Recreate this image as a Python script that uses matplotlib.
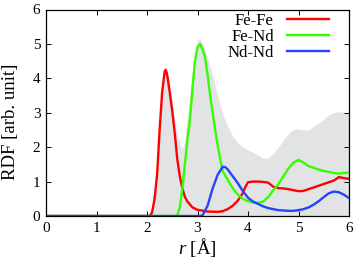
import matplotlib
matplotlib.use("Agg")
import matplotlib.pyplot as plt

# ---- data ----
r_fefe = [0.0, 2.0, 2.05, 2.1, 2.15, 2.2, 2.25, 2.3, 2.35, 2.37, 2.4, 2.45, 2.5, 2.55, 2.6, 2.65, 2.7, 2.75,
          2.8, 2.9, 3.0, 3.2, 3.4, 3.5, 3.6, 3.7, 3.8, 3.9, 3.95, 4.0, 4.1, 4.2, 4.3, 4.4, 4.5, 4.6, 4.7,
          4.8, 4.9, 5.0, 5.1, 5.2, 5.3, 5.4, 5.5, 5.6, 5.7, 5.8, 5.9, 6.0]
g_fefe = [0.0, 0.0, 0.0, 0.1, 0.5, 1.2, 2.5, 3.6, 4.2, 4.25, 4.1, 3.6, 3.05, 2.4, 1.65, 1.15, 0.8, 0.56,
          0.42, 0.25, 0.18, 0.13, 0.12, 0.14, 0.2, 0.3, 0.45, 0.67, 0.85, 0.98, 1.0, 1.0, 0.99, 0.97, 0.85, 0.81, 0.8,
          0.78, 0.75, 0.72, 0.73, 0.78, 0.83, 0.88, 0.93, 0.98, 1.03, 1.13, 1.1, 1.08]

r_fend = [0.0, 2.55, 2.6, 2.65, 2.7, 2.75, 2.8, 2.85, 2.9, 2.95, 3.0, 3.05, 3.1, 3.15, 3.2, 3.25, 3.3, 3.35,
          3.4, 3.45, 3.5, 3.6, 3.7, 3.8, 3.9, 4.0, 4.1, 4.2, 4.3, 4.4, 4.5, 4.6, 4.7, 4.8, 4.9, 5.0,
          5.1, 5.2, 5.3, 5.4, 5.5, 5.6, 5.7, 5.8, 5.9, 6.0]
g_fend = [0.0, 0.0, 0.02, 0.25, 0.8, 1.5, 2.2, 2.8, 3.7, 4.5, 4.9, 5.0, 4.85, 4.6, 4.1, 3.5, 3.0, 2.5,
          2.05, 1.65, 1.3, 1.05, 0.8, 0.62, 0.5, 0.43, 0.39, 0.38, 0.42, 0.55, 0.75, 0.92, 1.15, 1.38, 1.55, 1.63,
          1.55, 1.45, 1.4, 1.35, 1.31, 1.28, 1.25, 1.23, 1.25, 1.26]

r_ndnd = [0.0, 3.05, 3.1, 3.2, 3.3, 3.4, 3.5, 3.55, 3.6, 3.7, 3.8, 3.9, 4.0, 4.1, 4.2, 4.3, 4.4, 4.5,
          4.6, 4.7, 4.8, 4.9, 5.0, 5.1, 5.2, 5.3, 5.4, 5.5, 5.6, 5.7, 5.8, 5.9, 6.0]
g_ndnd = [0.0, 0.0, 0.02, 0.3, 0.8, 1.2, 1.43, 1.42, 1.35, 1.15, 0.95, 0.72, 0.53, 0.42, 0.35, 0.28, 0.23, 0.2,
          0.17, 0.16, 0.15, 0.15, 0.17, 0.2, 0.25, 0.33, 0.43, 0.55, 0.66, 0.71, 0.69, 0.62, 0.52]

r_total = [0.0, 2.0, 2.05, 2.1, 2.15, 2.2, 2.25, 2.3, 2.35, 2.4, 2.45, 2.5, 2.55, 2.6, 2.65, 2.7, 2.75, 2.8,
           2.85, 2.9, 2.95, 3.0, 3.05, 3.1, 3.15, 3.2, 3.3, 3.4, 3.5, 3.6, 3.7, 3.8, 3.9, 4.0, 4.1, 4.2,
           4.3, 4.4, 4.5, 4.6, 4.7, 4.8, 4.9, 5.0, 5.1, 5.2, 5.3, 5.4, 5.5, 5.6, 5.7, 5.8, 5.9, 6.0]
g_total = [0.0, 0.0, 0.05, 0.2, 0.6, 1.3, 2.6, 3.7, 4.25, 4.2, 3.8, 3.3, 2.8, 2.4, 2.1, 1.95, 2.2, 2.9,
           3.5, 4.2, 4.8, 5.12, 5.15, 5.0, 4.83, 4.6, 4.1, 3.5, 2.95, 2.6, 2.3, 2.12, 2.0, 1.92, 1.85, 1.77,
           1.68, 1.68, 1.83, 2.0, 2.2, 2.4, 2.52, 2.53, 2.5, 2.5, 2.62, 2.7, 2.82, 2.94, 3.0, 3.03, 3.02, 2.98]

labels = ["Fe-Fe", "Fe-Nd", "Nd-Nd"]
colors = ["#ff0000", "#33ff00", "#2244ff"]
xticks = [0, 1, 2, 3, 4, 5, 6]
yticks = [0, 1, 2, 3, 4, 5, 6]

plt.rcParams["font.family"] = ["Liberation Serif", "DejaVu Serif"]
plt.rcParams["mathtext.fontset"] = "custom"
plt.rcParams["mathtext.it"] = "Liberation Serif:italic"
plt.rcParams["mathtext.rm"] = "Liberation Serif"

fig = plt.figure(figsize=(3.54, 2.62), dpi=100)
ax = fig.add_axes([46 / 354, 1 - 216 / 262, 303 / 354, 206.5 / 262])

ax.fill_between(r_total, 0, g_total, color="#e1e3e5", lw=0)
series = [(r_fefe, g_fefe), (r_fend, g_fend), (r_ndnd, g_ndnd)]
for (rr, gg), lab, c in zip(series, labels, colors):
    ax.plot(rr, gg, color=c, lw=1.7, label=lab, solid_joinstyle="round")

ax.set_xlim(0, 6)
ax.set_ylim(0, 6)
ax.set_xticks(xticks)
ax.set_yticks(yticks)
ax.tick_params(direction="in", top=True, right=True, length=3.5, width=0.7,
               labelsize=11, pad=4)
for s in ax.spines.values():
    s.set_linewidth(0.9)

ax.set_xlabel(r"$r$ [Å]", fontsize=13.5, labelpad=1)
ax.set_ylabel("RDF [arb. unit]", fontsize=13.5)
ax.yaxis.set_label_coords(-0.088, 0.458)

leg = ax.legend(loc="upper right", bbox_to_anchor=(0.944, 0.998), frameon=False,
                markerfirst=False, fontsize=12, handlelength=2.5, handletextpad=0.8,
                labelspacing=0.0, borderaxespad=0, borderpad=0.2)

fig.savefig("out.png", dpi=100)
